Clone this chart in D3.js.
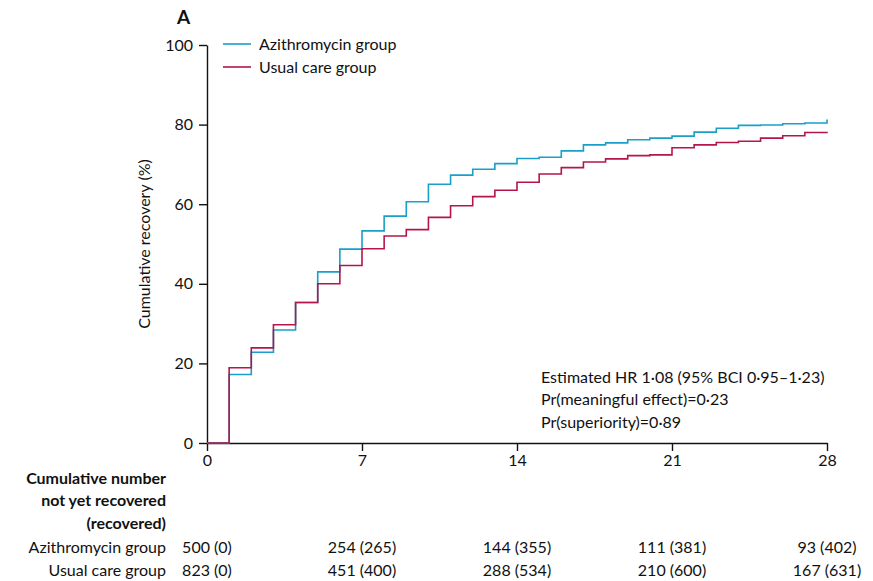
<!DOCTYPE html>
<html>
<head>
<meta charset="utf-8">
<script src="https://cdn.jsdelivr.net/npm/d3@7"></script>
<style>
  body { margin: 0; background: #fff; }
  svg text { font-family: Lato, "Open Sans", sans-serif; fill: #111; }
</style>
</head>
<body>
<div id="chart"></div>
<script>
var days = [0, 1, 2, 3, 4, 5, 6, 7, 8, 9, 10, 11, 12, 13, 14, 15, 16, 17, 18, 19, 20, 21, 22, 23, 24, 25, 26, 27, 28];
var azithro = [0, 17.2, 22.8, 28.4, 35.3, 43.0, 48.7, 53.3, 57.0, 60.6, 65.0, 67.3, 68.8, 70.2, 71.5, 71.8, 73.4, 74.9, 75.4, 76.2, 76.6, 77.1, 78.1, 79.1, 79.8, 79.9, 80.2, 80.4, 81.3];
var usual = [0, 18.9, 23.9, 29.7, 35.3, 40.0, 44.6, 48.8, 52.0, 53.6, 56.7, 59.6, 61.9, 63.5, 65.5, 67.6, 69.2, 70.6, 71.4, 72.2, 72.4, 74.2, 74.9, 75.5, 75.8, 76.6, 77.2, 78.0, 78.2];
var xTicks = [0, 7, 14, 21, 28];
var yTicks = [0, 20, 40, 60, 80, 100];
var seriesNames = ["Azithromycin group", "Usual care group"];
var seriesColors = ["#1a9fc9", "#b5164a"];
var riskAzithro = ["500 (0)", "254 (265)", "144 (355)", "111 (381)", "93 (402)"];
var riskUsual = ["823 (0)", "451 (400)", "288 (534)", "210 (600)", "167 (631)"];
var annotation = ["Estimated HR 1·08 (95% BCI 0·95–1·23)", "Pr(meaningful effect)=0·23", "Pr(superiority)=0·89"];

var width = 873, height = 581;
var margin = { left: 207, right: 46, top: 45, bottom: 138 };

var svg = d3.select("#chart").append("svg")
    .attr("width", width)
    .attr("height", height);

var x = d3.scaleLinear().domain([0, 28]).range([margin.left, width - margin.right]);
var y = d3.scaleLinear().domain([0, 100]).range([height - margin.bottom, margin.top]);

// axes
var yAxis = svg.append("g")
    .attr("transform", "translate(" + margin.left + ",0)")
    .call(d3.axisLeft(y).tickValues(yTicks).tickSize(8).tickPadding(6).tickSizeOuter(0));
var xAxis = svg.append("g")
    .attr("transform", "translate(0," + y(0) + ")")
    .call(d3.axisBottom(x).tickValues(xTicks).tickSize(8).tickPadding(4).tickSizeOuter(0));

[yAxis, xAxis].forEach(function (a) {
    a.selectAll("path, line").attr("stroke", "#111").attr("stroke-width", 1.4);
    a.selectAll("text").attr("font-size", 16).attr("font-family", "Lato, sans-serif").attr("fill", "#111");
});

svg.append("text")
    .attr("transform", "translate(150," + y(50) + ") rotate(-90)")
    .attr("text-anchor", "middle")
    .attr("font-size", 16)
    .text("Cumulative recovery (%)");

svg.append("text")
    .attr("x", 177).attr("y", 24)
    .attr("font-size", 19).attr("font-weight", "bold")
    .text("A");

// step lines
var line = d3.line()
    .x(function (d) { return x(d[0]); })
    .y(function (d) { return y(d[1]); })
    .curve(d3.curveStepAfter);

[azithro, usual].forEach(function (vals, i) {
    svg.append("path")
        .datum(days.map(function (d, j) { return [d, vals[j]]; }))
        .attr("fill", "none")
        .attr("stroke", seriesColors[i])
        .attr("stroke-width", 1.6)
        .attr("d", line);
});

// legend
var legend = svg.append("g").selectAll("g")
    .data(seriesNames)
    .enter().append("g")
    .attr("transform", function (d, i) { return "translate(223," + (44 + i * 23) + ")"; });
legend.append("line")
    .attr("x1", 0).attr("x2", 28)
    .attr("stroke", function (d, i) { return seriesColors[i]; })
    .attr("stroke-width", 1.6);
legend.append("text")
    .attr("x", 36).attr("dy", "0.35em")
    .attr("font-size", 16)
    .text(function (d) { return d; });

// annotation
svg.append("g").selectAll("text")
    .data(annotation)
    .enter().append("text")
    .attr("x", 541)
    .attr("y", function (d, i) { return 377 + i * 22.5; })
    .attr("dy", "0.35em")
    .attr("font-size", 16)
    .text(function (d) { return d; });

// risk table
var header = ["Cumulative number", "not yet recovered", "(recovered)"];
svg.append("g").selectAll("text")
    .data(header)
    .enter().append("text")
    .attr("x", 166)
    .attr("y", function (d, i) { return 478 + i * 22.5; })
    .attr("dy", "0.35em")
    .attr("text-anchor", "end")
    .attr("font-size", 16)
    .attr("font-weight", "bold")
    .text(function (d) { return d; });

[riskAzithro, riskUsual].forEach(function (row, i) {
    var ry = 547 + i * 23;
    svg.append("text")
        .attr("x", 166).attr("y", ry).attr("dy", "0.35em")
        .attr("text-anchor", "end").attr("font-size", 16)
        .text(seriesNames[i]);
    svg.append("g").selectAll("text")
        .data(row)
        .enter().append("text")
        .attr("x", function (d, j) { return x(xTicks[j]); })
        .attr("y", ry).attr("dy", "0.35em")
        .attr("text-anchor", "middle").attr("font-size", 16)
        .text(function (d) { return d; });
});
</script>
</body>
</html>
